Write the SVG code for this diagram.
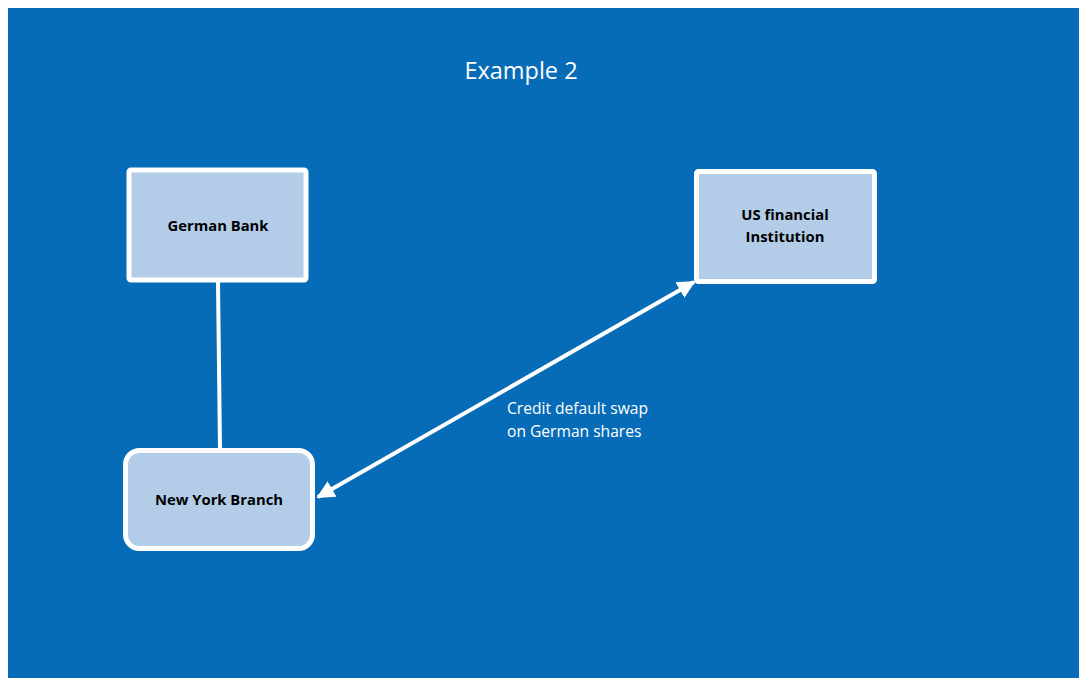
<svg xmlns="http://www.w3.org/2000/svg" width="1079" height="678" viewBox="0 0 1079 678">
<style>
.box{fill:#b3cde8;stroke:#ffffff;stroke-width:5}
.lbl{font-family:"Open Sans","Liberation Sans",sans-serif;font-weight:bold;font-size:14.8px;fill:#000000;text-anchor:middle}
.wt{font-family:"Open Sans","Liberation Sans",sans-serif;fill:#ffffff}
.conn{stroke:#ffffff;stroke-width:4;fill:none}
</style>
<defs>
<marker id="ah" viewBox="0 0 10 10" refX="9" refY="5" markerWidth="4.5" markerHeight="4.5" orient="auto-start-reverse" markerUnits="strokeWidth">
<path d="M0,0 L10,5 L0,10 z" fill="#ffffff"/>
</marker>
</defs>
<rect x="0" y="0" width="1079" height="678" fill="#ffffff"/>
<rect x="8" y="8" width="1071" height="670" fill="#066cb7"/>
<text class="wt" x="521" y="79" font-size="23.5" text-anchor="middle">Example 2</text>
<g id="connectors">
<line class="conn" x1="218" y1="282" x2="220" y2="450"/>
<line class="conn" x1="318" y1="497" x2="694" y2="282" marker-start="url(#ah)" marker-end="url(#ah)"/>
<text class="wt" x="507" y="414" font-size="15.6">Credit default swap</text>
<text class="wt" x="507" y="437" font-size="15.6">on German shares</text>
</g>
<g id="german-bank">
<rect class="box" x="129" y="170" width="177" height="110" rx="2"/>
<text class="lbl" x="218" y="231">German Bank</text>
</g>
<g id="us-financial">
<rect class="box" x="696.5" y="171.5" width="178" height="110" rx="2"/>
<text class="lbl" x="785" y="220">US financial</text>
<text class="lbl" x="785" y="242">Institution</text>
</g>
<g id="new-york-branch">
<rect class="box" x="125.5" y="450.5" width="187" height="98" rx="14"/>
<text class="lbl" x="219" y="505">New York Branch</text>
</g>
</svg>
